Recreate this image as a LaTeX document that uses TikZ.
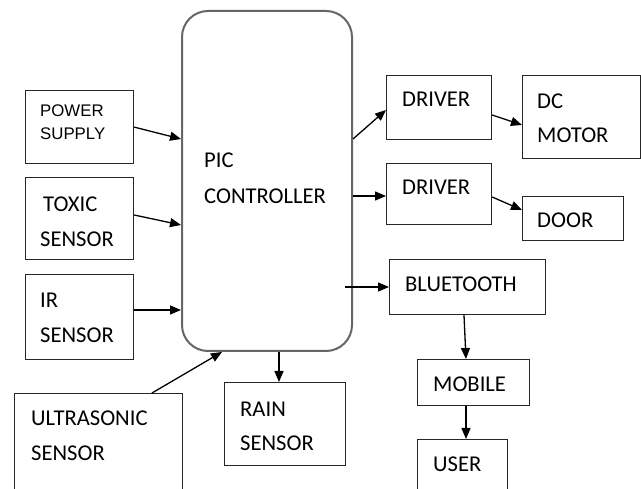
\documentclass[tikz,border=0pt]{standalone}
\usepackage{fontspec}
\setmainfont{Carlito}
\newfontfamily\arialf{Liberation Sans}
\usetikzlibrary{arrows.meta}
\begin{document}
\begin{tikzpicture}[x=1pt,y=-1pt,
  box/.style={draw=black!85,line width=1.2pt,rectangle,inner sep=0pt,anchor=north west},
  picbox/.style={draw=black!60,line width=2pt,rectangle,rounded corners=26pt,inner sep=0pt,anchor=north west},
  lbl/.style={inner sep=0pt,anchor=base west,font=\fontsize{22.6}{24}\selectfont},
  slbl/.style={inner sep=0pt,anchor=base west,font=\arialf\fontsize{16.8}{18}\selectfont},
  arr/.style={-{Triangle[length=11pt,width=9pt]},line width=1.3pt,black}]
\clip (0,0) rectangle (641,489);
\fill[white] (0,0) rectangle (641,489);
% boxes
\node[picbox,minimum width=170pt,minimum height=340pt] (pic) at (181,10) {};
\node[box,minimum width=108pt,minimum height=73pt] (pwr) at (25,90) {};
\node[box,minimum width=108pt,minimum height=82pt] (tox) at (25,177) {};
\node[box,minimum width=108pt,minimum height=85pt] (ir) at (25,274) {};
\node[box,minimum width=168pt,minimum height=110pt] (ult) at (14,393) {};
\node[box,minimum width=121pt,minimum height=83pt] (rain) at (224,382) {};
\node[box,minimum width=105pt,minimum height=64pt] (drv1) at (386,75) {};
\node[box,minimum width=118pt,minimum height=83pt] (dc) at (522,75) {};
\node[box,minimum width=105pt,minimum height=61pt] (drv2) at (386,163) {};
\node[box,minimum width=101pt,minimum height=44pt] (door) at (522,196) {};
\node[box,minimum width=156pt,minimum height=55pt] (bt) at (389,259) {};
\node[box,minimum width=112pt,minimum height=46pt] (mob) at (417,359) {};
\node[box,minimum width=90pt,minimum height=70pt] (user) at (417,439) {};
% texts
\node[slbl] (t1) at (40,117) {POWER};
\node[slbl] (t2) at (40,140) {SUPPLY};
\node[lbl] (t3) at (43,212) {TOXIC};
\node[lbl] (t4) at (40,247) {SENSOR};
\node[lbl] (t5) at (40,308) {IR};
\node[lbl] (t6) at (40,343) {SENSOR};
\node[lbl] (t7) at (31,426) {ULTRASONIC};
\node[lbl] (t8) at (31,461) {SENSOR};
\node[lbl] (t9) at (240,417) {RAIN};
\node[lbl] (t10) at (240,451) {SENSOR};
\node[lbl] (t11) at (204,168) {PIC};
\node[lbl] (t12) at (204,204) {CONTROLLER};
\node[lbl] (t13) at (402,107) {DRIVER};
\node[lbl] (t14) at (402,195) {DRIVER};
\node[lbl] (t15) at (537,109) {DC};
\node[lbl] (t16) at (537,143) {MOTOR};
\node[lbl] (t17) at (537,228) {DOOR};
\node[lbl] (t18) at (405,292) {BLUETOOTH};
\node[lbl] (t19) at (433,392) {MOBILE};
\node[lbl] (t20) at (433,472) {USER};
% connectors
\coordinate (btsrc) at (345,287);
\draw[arr] (pwr.east) -- (pic.west |- 0,139);
\draw[arr] (tox.east |- 0,215) -- (pic.west |- 0,225);
\draw[arr] (ir.east |- 0,310) -- (pic.west |- 0,310);
\draw[arr] (ult.north -| 152,0) -- (pic.south -| 222,0);
\draw[arr] (pic.south -| 279,0) -- (rain.north -| 279,0);
\draw[arr] (pic.east |- 0,139) -- (drv1.west |- 0,110);
\draw[arr] (drv1.east |- 0,115) -- (dc.west |- 0,125);
\draw[arr] (pic.east |- 0,196) -- (drv2.west |- 0,196);
\draw[arr] (drv2.east |- 0,197) -- (door.west |- 0,210);
\draw[arr] (btsrc) -- (bt.west |- 0,287);
\draw[arr] (bt.south -| 464,0) -- (mob.north -| 466,0);
\draw[arr] (mob.south -| 466,0) -- (user.north -| 466,0);
\end{tikzpicture}
\end{document}
